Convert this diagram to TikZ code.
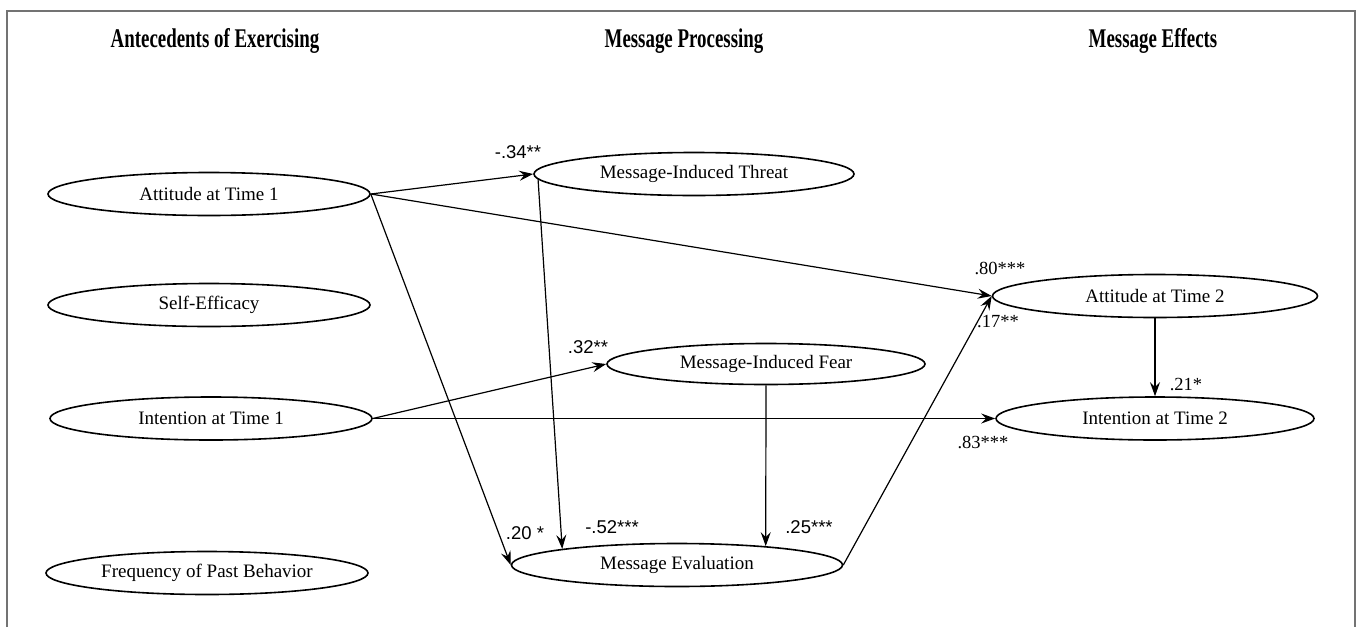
\documentclass[tikz,border=0pt]{standalone}
\usepackage{fontspec}
\usepackage{graphicx}
\setmainfont{Liberation Serif}
\newfontfamily\arialfont{Liberation Sans}
\usetikzlibrary{arrows.meta,shapes.geometric}

\def \ovalW {322pt}
\def \ovalH {43pt}
\def \squeeze #1{\scalebox{0.7}[1]{#1}}

\begin{document}
\begin{tikzpicture}[x=1pt,y=-1pt,
      oval/.style={draw, ellipse, line width=1.6pt, minimum width=\ovalW, minimum height=\ovalH, inner sep=0pt, font=\fontsize{19}{21}\selectfont},
      link/.style={-{Stealth[length=14pt,width=10pt,inset=5pt]}, line width=1.2pt},
      coef/.style={inner sep=0pt, font=\fontsize{18.5}{20}\selectfont},
      coefsans/.style={inner sep=0pt, font=\arialfont\fontsize{18.5}{20}\selectfont},
      heading/.style={inner sep=0pt, anchor=base, font=\bfseries\fontsize{27}{30}\selectfont}]
   \useasboundingbox (0,0) rectangle (1360,627);
   \draw[black!55, line width=1.5pt] (7,627) -- (7,11) -- (1355,11) -- (1355,627);

   % column headings
   \node[heading] (hAnte) at (215,47) {\squeeze{Antecedents of Exercising}};
   \node[heading] (hProc) at (684,47) {\squeeze{Message Processing}};
   \node[heading] (hEff) at (1153,47) {\squeeze{Message Effects}};

   % variables
   \node[oval] (att1) at (209,194) {Attitude at Time 1};
   \node[oval] (self) at (209,305) {Self-Efficacy};
   \node[oval] (int1) at (211,418.5) {Intention at Time 1};
   \node[oval] (freq) at (207,573) {Frequency of Past Behavior};
   \node[oval, minimum width=320pt] (threat) at (694,174) {Message-Induced Threat};
   \node[oval, minimum width=318pt, minimum height=41pt] (fear) at (766,364) {Message-Induced Fear};
   \node[oval, minimum width=331pt] (eval) at (677,565) {Message Evaluation};
   \node[oval, minimum width=325pt] (att2) at (1155,296) {Attitude at Time 2};
   \node[oval, minimum width=318pt] (int2) at (1155,418.5) {Intention at Time 2};

   % paths
   \draw[link] (att1.east) -- (threat.west);
   \draw[link] (att1.east) -- (att2.west);
   \draw[link] (att1.east) -- (eval.west);
   \draw[link] (threat.182) -- (eval.172.2);
   \draw[link] (int1.east) -- (fear.west);
   \draw[link] (int1.east) -- (int2.west);
   \draw[link] (fear.south) -- (eval.12);
   \draw[link] (eval.east) -- (att2.west);
   \draw[link] (att2.south) -- (int2.north);

   % coefficients
   \node[coefsans] (cThreat) at (518,152) {-.34**};
   \node[coefsans] (cFear) at (588,347) {.32**};
   \node[coefsans] (cAttEval) at (525,533) {.20 *};
   \node[coefsans] (cThrEval) at (612,527) {-.52***};
   \node[coefsans] (cFearEval) at (809,527) {.25***};
   \node[coef] (cAtt) at (1000,268) {.80***};
   \node[coef] (cEvalAtt) at (998,322) {.17**};
   \node[coef] (cInt) at (1186,384) {.21*};
   \node[coef] (cIntInt) at (983,442) {.83***};
\end{tikzpicture}
\end{document}
